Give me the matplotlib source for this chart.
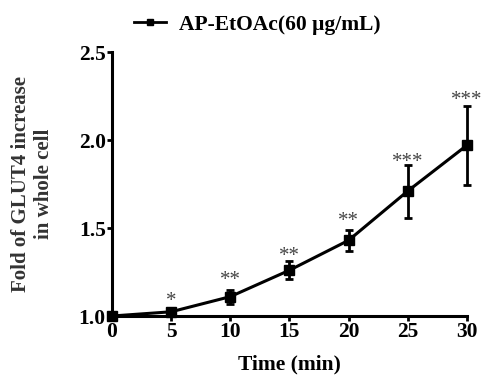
import matplotlib
matplotlib.use("Agg")
import matplotlib.pyplot as plt
from matplotlib.lines import Line2D

# data
time_min = [0, 5, 10, 15, 20, 25, 30]
fold = [1.00, 1.024, 1.11, 1.26, 1.43, 1.71, 1.97]
err = [0.0, 0.01, 0.04, 0.05, 0.06, 0.15, 0.225]
stars = ["", "*", "**", "**", "**", "***", "***"]
star_y = [1.0, 1.115, 1.233, 1.371, 1.568, 1.905, 2.256]

plt.rcParams["font.family"] = ["Liberation Serif", "DejaVu Serif"]
plt.rcParams["font.weight"] = "bold"

fig = plt.figure(figsize=(4.9, 3.78), dpi=100)
ax = fig.add_axes([0.2286, 0.164, 0.724, 0.698])

ax.errorbar(time_min, fold, yerr=err, color="black", lw=2.2, marker="s",
            markersize=6.5, capsize=3, capthick=2, elinewidth=2,
            clip_on=False, zorder=3)

# glyph centre sits ~0.49 em above the baseline
off = 0.49 * 15 / 72 * 100 / (ax.get_position().height * 378 / 1.5)
for x, y, s in zip(time_min, star_y, stars):
    if s:
        ax.text(x, y - off, s, ha="center", va="baseline", fontsize=15,
                color="#444444", fontweight="normal")

ax.set_xlim(0, 30)
ax.set_ylim(1.0, 2.5)
ax.set_xticks([0, 5, 10, 15, 20, 25, 30])
ax.set_yticks([1.0, 1.5, 2.0, 2.5])
ax.set_yticklabels(["1.0", "1.5", "2.0", "2.5"])

for side in ["top", "right"]:
    ax.spines[side].set_visible(False)
for side in ["left", "bottom"]:
    ax.spines[side].set_linewidth(2.2)

ax.tick_params(axis="both", direction="out", length=3.5, width=2,
               labelsize=15.5, pad=1)

ax.set_xlabel("Time (min)", fontsize=15.5, fontweight="bold", labelpad=9)
ax.set_ylabel("Fold of GLUT4 increase\nin whole cell", fontsize=15,
              fontweight="bold", labelpad=18, color="#333333")

handle = Line2D([], [], color="black", lw=2, marker="s", markersize=4.5)
leg = fig.legend([handle], ["AP-EtOAc(60 μg/mL)"], loc="center",
                 bbox_to_anchor=(0.525, 0.935), frameon=False,
                 fontsize=15.5, handlelength=1.5, handletextpad=0.6)
for t in leg.get_texts():
    t.set_fontweight("bold")

fig.savefig("out.png", dpi=100)
